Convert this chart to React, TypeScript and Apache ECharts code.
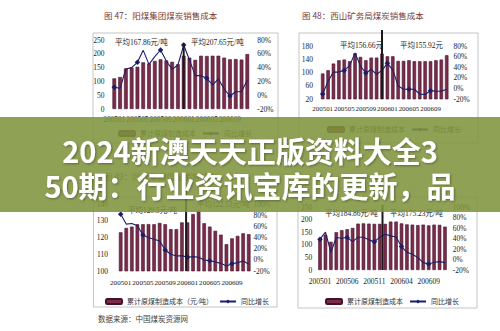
import React, { useEffect, useRef } from 'react';
import * as echarts from 'echarts';

const months = [
  '200501', '200502', '200503', '200504', '200505', '200506', '200507', '200508', '200509', '200510', '200511', '200512',
  '200601', '200602', '200603', '200604', '200605', '200606', '200607', '200608', '200609', '200610', '200611', '200612',
];

// 图47 阳煤集团
const tlCost = [111, 116, 147, 150, 153, 169, 165, 174, 180, 176, 171, 162, 193, 186, 178, 193, 192, 193, 193, 186, 180, 181, 179, 199];
const tlYoy = [11.4, 10, 38, 40, 47.6, 65, 44.7, 56, 65.5, 49.6, 37.5, 43.8, 72.7, 51, 28.3, 28.3, 24.4, 14.8, 23.5, 9, -1.2, 5, 5, 22];
// 图48 西山矿务局
const trCost = [97, 107, 127, 137, 139, 134, 158, 147, 137, 145, 145, 157, 149, 149, 135, 135, 137, 134, 134, 134, 134, 137, 139, 152];
const trYoy = [-10.7, 13.7, 30.8, 30.8, 34, 43, 67, 42, 29, 35.8, 26.6, 34, 47.4, 35, 4.5, -1.6, -1.6, -1.6, -10.8, -11.5, -4.2, -5.5, -5.5, -1.6];
// 图49
const blCost = [123.1, 125.7, 126.5, 127.9, 127.9, 128, 127.9, 128.7, 127.9, 125, 125, 129, 129, 134, 136, 128.5, 126.5, 124, 121.7, 116, 119.5, 121, 122.5, 122];
const blYoy = [81.5, 64, 65, 61, 44.5, 39.7, 36.7, 33.7, 17.6, 9.9, 6.9, 7.5, 4.5, 5.7, 4.5, -0.3, -1.5, -3.9, -6.3, -11, -6.9, -5, -2, -7.5];
// 图50
const brCost = [124, 140, 112, 150, 158, 162, 167, 184, 185, 184, 183, 183, 183, 192, 192, 185, 181, 180, 178, 180, 177, 180, 179, 172];
const brYoy = [38.7, 52, 13.8, 42, 40.6, 42, 34, 42.5, 42.5, 37.4, 33.6, 42.5, 48, 45, 43, 24.7, 13.8, 10, 3.6, -6, -8.5, -5.3, -4, -6];

const trLeftTicks = [20, 60, 100, 140, 180];

const SERIF = "'Liberation Serif','DejaVu Serif','Noto Sans CJK SC',serif";
const CJK = "'Noto Sans CJK SC','Noto Sans',sans-serif";
const BAR = '#7b2c4b';
const BAR_BORDER = '#45122b';
const LINE = '#1b1d6a';

const panels = [
  {
    grid: { left: 111.4, top: 40, width: 138.8, height: 69 },
    cost: tlCost, yoy: tlYoy, lMin: 0, lMax: 250, lInt: 50, lCustom: null as number[] | null, rMax: 80,
    catInt: 3, catMargin: 7, catFont: 7.4, lMargin: 7, rMargin: 7, barName: '累计原煤制造成本',
    legend: { left: 118, top: 130 },
    avgL: { text: '平均167.86元/吨', x: 115, y: 42 }, avgR: { text: '平均207.65元/吨', x: 191, y: 42 },
    div: { a: 12, b: 12, w: 0.0, top: 43 },
  },
  {
    grid: { left: 320, top: 46, width: 129.4, height: 53 },
    cost: trCost, yoy: trYoy, lMin: 20, lMax: 180, lInt: 0, lCustom: trLeftTicks, rMax: 80,
    catInt: 3, catMargin: 6, catFont: 6.9, lMargin: 7, rMargin: 4, barName: '累计原煤制造成本',
    legend: { left: 327, top: 126 },
    avgL: { text: '平均156.66元', x: 340, y: 45 }, avgR: { text: '平均155.92元', x: 400, y: 45 },
    div: { a: 11, b: 11, w: 0.0, top: 30 },
  },
  {
    grid: { left: 117.9, top: 204, width: 133.6, height: 67 },
    cost: blCost, yoy: blYoy, lMin: 100, lMax: 140, lInt: 10, lCustom: null, rMax: 100,
    catInt: 3, catMargin: 8, catFont: 7.1, lMargin: 10, rMargin: 2, barName: '累计原煤制造成本（元/吨）',
    legend: { left: 105, top: 298 },
    avgL: { text: '平均129.5元/吨', x: 128, y: 210 }, avgR: { text: '平均122.53元/吨', x: 197, y: 204 },
    div: { a: 11, b: 12, w: 0.75, top: 190 },
  },
  {
    grid: { left: 317.3, top: 207, width: 130.4, height: 63 },
    cost: brCost, yoy: brYoy, lMin: 0, lMax: 250, lInt: 50, lCustom: null, rMax: 100,
    catInt: 4, catMargin: 8, catFont: 7.5, lMargin: 5, rMargin: 5, barName: '累计原煤制造成本',
    legend: { left: 325, top: 298 },
    avgL: { text: '平均184.86元/吨', x: 325, y: 213 }, avgR: { text: '平均175.23元/吨', x: 390, y: 213 },
    div: { a: 11, b: 12, w: 0.5, top: 205 },
  },
];

const frames = [
  { x: 93, y: 33, w: 185, h: 110 },
  { x: 299, y: 33, w: 179, h: 110 },
  { x: 93.5, y: 197, w: 183.5, h: 110 },
  { x: 298, y: 197, w: 179, h: 111 },
];

const titles = [
  { text: '图 47：阳煤集团煤炭销售成本', x: 104, y: 15 },
  { text: '图 48：西山矿务局煤炭销售成本', x: 302, y: 15 },
  { text: '图 49：同煤集团煤炭销售成本', x: 104, y: 176 },
];

const bannerLines = ['2024新澳天天正版资料大全3', '50期：行业资讯宝库的更新，品'];

export default function App() {
  const ref = useRef<HTMLDivElement>(null);
  useEffect(() => {
    document.body.style.margin = '0';
    if (!ref.current) return;
    const chart = echarts.init(ref.current, undefined, { renderer: 'svg' });
    const labelBase = { fontSize: 7.5, color: '#222', fontFamily: SERIF };
    const yAxis: any[] = [];
    panels.forEach((p, i) => {
      const left: any = {
        type: 'value', gridIndex: i, position: 'left', min: p.lMin, max: p.lMax,
        axisLine: { show: false }, axisTick: { show: false }, splitLine: { show: false },
        axisLabel: { ...labelBase, margin: p.lMargin },
      };
      if (p.lInt) left.interval = p.lInt;
      if (p.lCustom) left.axisLabel.customValues = p.lCustom;
      yAxis.push(left);
      yAxis.push({
        type: 'value', gridIndex: i, position: 'right', min: -20, max: p.rMax, interval: 20,
        axisLine: { show: false }, axisTick: { show: false }, splitLine: { show: false },
        axisLabel: { ...labelBase, margin: p.rMargin, formatter: '{value}%' },
      });
    });
    const option: any = {
      animation: false,
      grid: panels.map((p) => ({ ...p.grid, containLabel: false, outerBoundsMode: 'none' })),
      xAxis: panels.map((p, i) => ({
        type: 'category', gridIndex: i, data: months,
        axisLine: { show: false }, axisTick: { show: false }, splitLine: { show: false },
        axisLabel: {
          ...labelBase, fontSize: p.catFont, interval: p.catInt, margin: p.catMargin,
          hideOverlap: false, showMinLabel: true,
        },
      })),
      yAxis,
      legend: panels.map((p) => ({
        left: p.legend.left, top: p.legend.top, padding: 0, orient: 'horizontal',
        data: [p.barName, '同比增长'], itemWidth: 16, itemHeight: 5, itemGap: 6, selectedMode: false,
        textStyle: { fontSize: 7, color: '#333', fontFamily: SERIF },
      })),
      series: panels.flatMap((p, i) => [
        {
          type: 'bar', name: p.barName, xAxisIndex: i, yAxisIndex: 2 * i, data: p.cost,
          barWidth: '64%', clip: true,
          itemStyle: { color: BAR, borderColor: BAR_BORDER, borderWidth: 0.6 },
        },
        {
          type: 'line', name: '同比增长', xAxisIndex: i, yAxisIndex: 2 * i + 1, data: p.yoy,
          symbol: 'diamond', symbolSize: 5.5, z: 3,
          lineStyle: { color: LINE, width: 1.1 }, itemStyle: { color: LINE },
        },
      ]),
    };
    chart.setOption(option);

    const graphic: any[] = [];
    frames.forEach((f) => {
      graphic.push({ type: 'rect', z: 1, shape: { x: f.x, y: f.y, width: f.w, height: f.h }, style: { fill: 'none', stroke: '#c4c4c4', lineWidth: 1 } });
    });
    titles.forEach((t) => {
      graphic.push({
        type: 'text', z: 5, x: t.x, y: t.y,
        style: { text: t.text, fontSize: 8.5, fill: '#7a3a36', fontFamily: CJK, textVerticalAlign: 'middle' },
      });
    });
    graphic.push({
      type: 'text', z: 5, x: 98, y: 318,
      style: { text: '数据来源：中国煤炭资源网', fontSize: 7.5, fill: '#444', fontFamily: CJK, textVerticalAlign: 'middle' },
    });
    panels.forEach((p, i) => {
      [p.avgL, p.avgR].forEach((a) => {
        graphic.push({
          type: 'text', z: 6, x: a.x, y: a.y,
          style: { text: a.text, fontSize: 7.5, fill: '#222', fontFamily: SERIF, textVerticalAlign: 'middle' },
        });
      });
      const xa = chart.convertToPixel({ xAxisIndex: i }, p.div.a) as number;
      const xb = chart.convertToPixel({ xAxisIndex: i }, p.div.b) as number;
      const x = xa + (xb - xa) * p.div.w;
      graphic.push({
        type: 'line', z: 7,
        shape: { x1: x, y1: p.div.top, x2: x, y2: p.grid.top + p.grid.height },
        style: { stroke: '#1a1a1a', lineWidth: 2 },
      });
    });
    graphic.push({
      type: 'rect', z: 100, shape: { x: 0, y: 117, width: 500, height: 95 },
      style: { fill: 'rgba(128,148,62,0.88)' },
    });
    bannerLines.forEach((line, k) => {
      graphic.push({
        type: 'text', z: 101, x: 250, y: 150 + k * 35,
        style: {
          text: line, fontSize: 29, fontWeight: 'bold', fill: '#ffffff', fontFamily: CJK,
          textAlign: 'center', textVerticalAlign: 'middle',
          textShadowColor: 'rgba(0,0,0,0.35)', textShadowBlur: 2, textShadowOffsetX: 1, textShadowOffsetY: 1,
        },
      });
    });
    chart.setOption({ graphic });
    return () => chart.dispose();
  }, []);
  return <div ref={ref} style={{ width: 500, height: 331, background: '#fff' }} />;
}
